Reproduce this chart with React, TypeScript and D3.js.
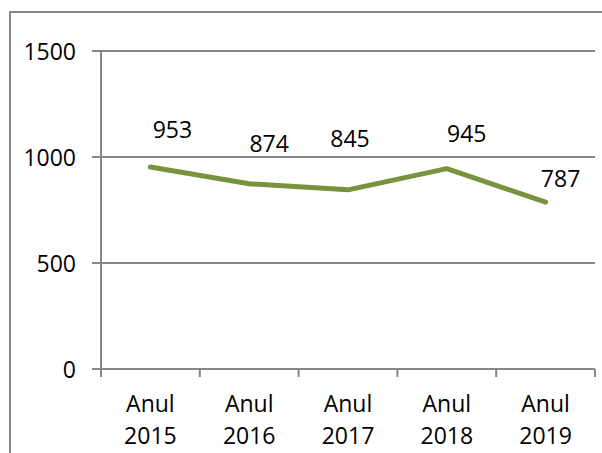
import React from "react";
import * as d3 from "d3";

const categories = ["Anul 2015", "Anul 2016", "Anul 2017", "Anul 2018", "Anul 2019"];
const values = [953, 874, 845, 945, 787];
const yTicks = [0, 500, 1000, 1500];
// label placement relative to each point (dx to text centre, dy to baseline)
const labelDx = [22, 20, 2, 20, 15];
const labelDy = [-29, -32, -43, -27, -15];

const W = 602;
const H = 453;
const left = 101;
const right = 595;
const top = 51;
const bottom = 369;
const FONT = "'Open Sans', sans-serif";
const GRID = "#868686";
const GREEN = "#77933C";

export default function App() {
  const x = d3.scaleBand<string>().domain(categories).range([left, right]);
  const y = d3.scaleLinear().domain([0, 1500]).range([bottom, top]);
  const cx = (c: string) => (x(c) as number) + x.bandwidth() / 2;
  const line = d3
    .line<number>()
    .x((_, i) => cx(categories[i]))
    .y((d) => y(d));

  const boundaries = categories.map((c) => x(c) as number).concat([right]);

  return (
    <div style={{ position: "fixed", left: 0, top: 0 }}>
      <svg width={W} height={H} style={{ display: "block" }}>
        <rect x={0} y={0} width={W} height={H} fill="#fff" />
        <rect x={10} y={12} width={W} height={H} fill="none" stroke={GRID} strokeWidth={2} />
        {yTicks.map((t) => (
          <g key={t}>
            {t > 0 && (
              <line x1={left} x2={right} y1={y(t)} y2={y(t)} stroke={GRID} strokeWidth={2} />
            )}
            <line x1={92} x2={left} y1={y(t)} y2={y(t)} stroke={GRID} strokeWidth={2} />
            <text
              x={76}
              y={y(t)}
              textAnchor="end"
              dominantBaseline="central"
              fontFamily={FONT}
              fontSize={23}
              fill="#000"
            >
              {t}
            </text>
          </g>
        ))}
        <line x1={left} x2={left} y1={top} y2={bottom} stroke={GRID} strokeWidth={2} />
        <line x1={left - 9} x2={right} y1={bottom} y2={bottom} stroke={GRID} strokeWidth={2} />
        {boundaries.map((b, i) => (
          <line key={i} x1={b} x2={b} y1={bottom} y2={bottom + 8} stroke={GRID} strokeWidth={2} />
        ))}
        {categories.map((c) => {
          const parts = c.split(" ");
          return (
            <text key={c} x={cx(c)} textAnchor="middle" fontFamily={FONT} fontSize={23} fill="#000">
              <tspan x={cx(c)} y={412}>
                {parts[0]}
              </tspan>
              <tspan x={cx(c)} y={444}>
                {parts[1]}
              </tspan>
            </text>
          );
        })}
        <path
          d={line(values) || ""}
          fill="none"
          stroke={GREEN}
          strokeWidth={5}
          strokeLinejoin="round"
          strokeLinecap="round"
        />
        {values.map((v, i) => (
          <text
            key={i}
            x={cx(categories[i]) + labelDx[i]}
            y={y(v) + labelDy[i]}
            textAnchor="middle"
            fontFamily={FONT}
            fontSize={23}
            fill="#000"
          >
            {v}
          </text>
        ))}
      </svg>
    </div>
  );
}
